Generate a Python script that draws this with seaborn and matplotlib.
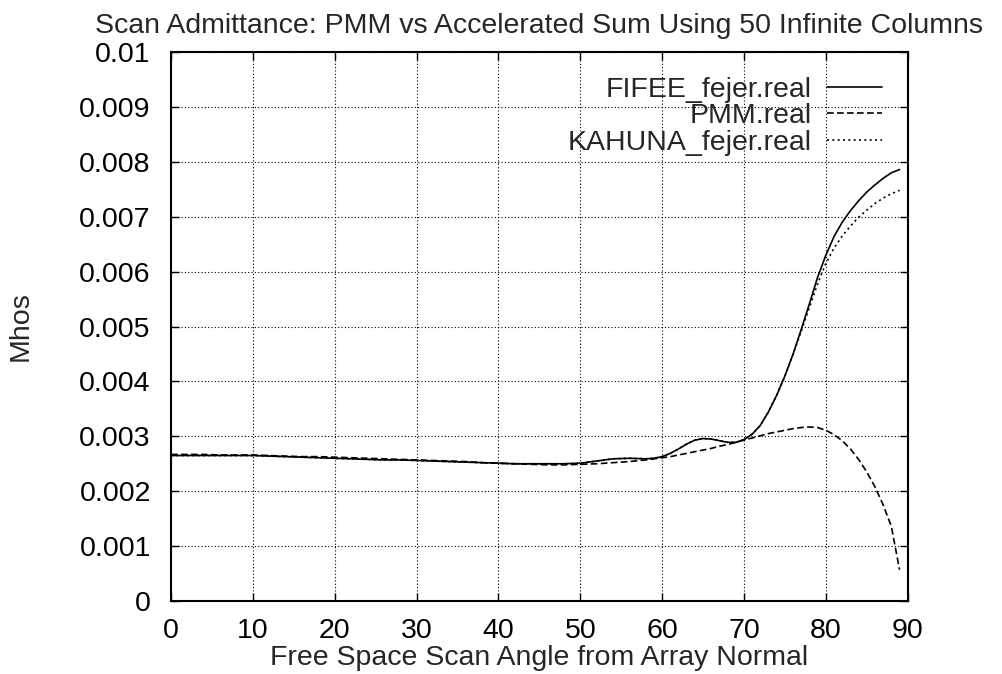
import numpy as np
import pandas as pd
import matplotlib
matplotlib.use("Agg")
import matplotlib.pyplot as plt
import seaborn as sns

# ---- data ----
angles = list(range(0, 59, 2)) + list(range(59, 90))

fifee = [0.00265, 0.00265, 0.00265, 0.00265, 0.00265, 0.00265, 0.00264, 0.00263,
         0.00262, 0.00261, 0.00260, 0.00259, 0.00258, 0.00257, 0.00257, 0.00256,
         0.00255, 0.00254, 0.00253, 0.00252, 0.00251, 0.00250, 0.00250, 0.00250,
         0.00250, 0.00251, 0.00255, 0.00259, 0.00260, 0.00259,
         0.00260, 0.00263, 0.00269, 0.00277, 0.00286, 0.00293, 0.00296, 0.00295,
         0.00292, 0.00289, 0.00289, 0.00294, 0.00304, 0.00320, 0.00345, 0.00375,
         0.00410, 0.00450, 0.00495, 0.00542, 0.00590, 0.00630, 0.00664, 0.00690,
         0.00711, 0.00729, 0.00745, 0.00758, 0.00770, 0.00780, 0.00786]

pmm = [0.00267, 0.00267, 0.00267, 0.00266, 0.00266, 0.00266, 0.00265, 0.00264,
       0.00263, 0.00263, 0.00262, 0.00261, 0.00260, 0.00259, 0.00258, 0.00257,
       0.00256, 0.00255, 0.00254, 0.00252, 0.00251, 0.00250, 0.00249, 0.00248,
       0.00248, 0.00249, 0.00250, 0.00252, 0.00254, 0.00257,
       0.00259, 0.00261, 0.00263, 0.00266, 0.00269, 0.00272, 0.00275, 0.00278,
       0.00282, 0.00285, 0.00289, 0.00293, 0.00297, 0.00301, 0.00305, 0.00308,
       0.00311, 0.00314, 0.00316, 0.00317, 0.00316, 0.00311, 0.00303, 0.00292,
       0.00277, 0.00258, 0.00235, 0.00208, 0.00175, 0.00136, 0.00057]

kahuna = [0.00265, 0.00265, 0.00265, 0.00265, 0.00265, 0.00265, 0.00264, 0.00263,
          0.00262, 0.00261, 0.00260, 0.00259, 0.00258, 0.00257, 0.00257, 0.00256,
          0.00255, 0.00254, 0.00253, 0.00252, 0.00251, 0.00250, 0.00250, 0.00250,
          0.00250, 0.00251, 0.00255, 0.00259, 0.00260, 0.00259,
          0.00260, 0.00263, 0.00269, 0.00277, 0.00286, 0.00293, 0.00296, 0.00295,
          0.00292, 0.00289, 0.00289, 0.00294, 0.00304, 0.00320, 0.00345, 0.00375,
          0.00410, 0.00450, 0.00492, 0.00535, 0.00578, 0.00615, 0.00643, 0.00665,
          0.00683, 0.00699, 0.00712, 0.00724, 0.00734, 0.00742, 0.00748]

series_names = ["FIFEE_fejer.real", "PMM.real", "KAHUNA_fejer.real"]
x_ticks = list(range(0, 100, 10))
y_ticks = [0, 0.001, 0.002, 0.003, 0.004, 0.005, 0.006, 0.007, 0.008, 0.009, 0.01]
y_tick_labels = ["0", "0.001", "0.002", "0.003", "0.004", "0.005",
                 "0.006", "0.007", "0.008", "0.009", "0.01"]

df = pd.DataFrame({
    "angle": angles * 3,
    "mhos": fifee + pmm + kahuna,
    "serie": [series_names[0]] * len(angles) + [series_names[1]] * len(angles)
             + [series_names[2]] * len(angles),
})

# ---- style ----
sns.set_style("ticks")
plt.rcParams["font.family"] = ["Liberation Sans", "DejaVu Sans"]
fs = 20.5

fig = plt.figure(figsize=(10.03, 6.74), dpi=100)
ax = fig.add_axes([0.1705, 0.1083, 0.7345, 0.8145])

dash_styles = {series_names[0]: "", series_names[1]: (4, 2), series_names[2]: (1.2, 2)}
sns.lineplot(data=df, x="angle", y="mhos", hue="serie", style="serie",
             palette=["black"] * 3, dashes=dash_styles, linewidth=1.2,
             ax=ax, legend=False)

ax.set_xlim(0, 90)
ax.set_ylim(0, 0.01)
ax.set_xticks(x_ticks)
ax.set_yticks(y_ticks)
ax.set_yticklabels(y_tick_labels)
ax.tick_params(direction="in", length=6, width=1, top=True, right=True,
               labelsize=fs, colors="black")
ax.tick_params(axis="y", pad=14.5)
ax.tick_params(axis="x", pad=12.5)
ax.grid(True, linestyle=(0, (1, 2)), color="black", linewidth=0.8)
for s in ax.spines.values():
    s.set_linewidth(1.5)
    s.set_color("black")

ax.set_xlabel("Free Space Scan Angle from Array Normal", fontsize=fs)
ax.xaxis.set_label_coords(0.5, -0.081)
ax.set_ylabel("Mhos", fontsize=fs)
ax.yaxis.set_label_coords(-0.186, 0.5)
ax.set_title("Scan Admittance: PMM vs Accelerated Sum Using 50 Infinite Columns",
             fontsize=fs, pad=13.5)

# legend gnuplot-like: text on left, sample on right
handles = [plt.Line2D([], [], color="black", linewidth=1.2, linestyle="-"),
           plt.Line2D([], [], color="black", linewidth=1.2, linestyle=(0, (4, 2))),
           plt.Line2D([], [], color="black", linewidth=1.2, linestyle=(0, (1.2, 2)))]
ax.legend(handles, series_names, loc="upper right", frameon=False, markerfirst=False,
          fontsize=fs, handlelength=1.9, handletextpad=0.55, labelspacing=0.03,
          bbox_to_anchor=(0.980, 0.976), borderaxespad=0)

fig.savefig("out.png", dpi=100, facecolor="white")
